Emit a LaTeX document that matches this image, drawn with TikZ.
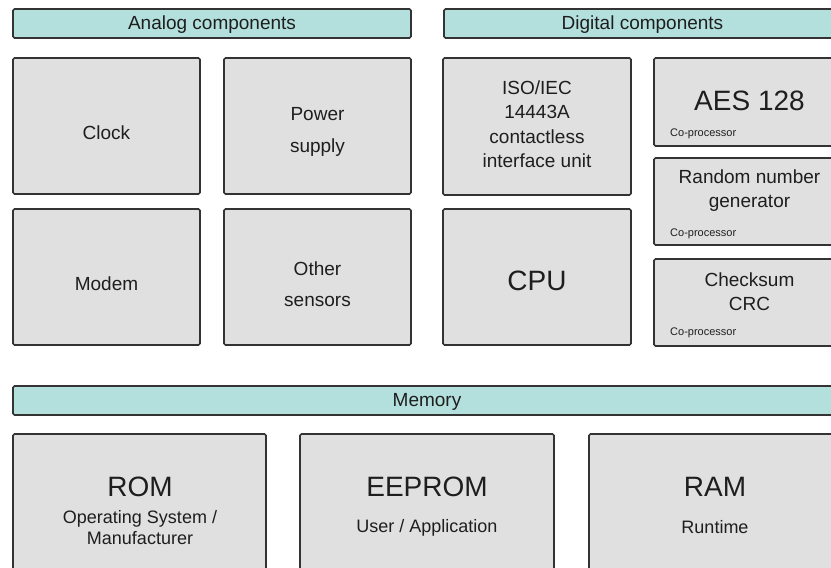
\documentclass[tikz,border=0pt]{standalone}
\usepackage{fontspec}
\setmainfont{Liberation Sans}
\definecolor{hdr}{HTML}{B3E0DD}
\definecolor{boxfill}{HTML}{E0E0E0}
\definecolor{edge}{HTML}{333333}
\definecolor{ink}{HTML}{1E1E1E}
\begin{document}
\begin{tikzpicture}[x=1pt,y=-1pt,
  hdrbox/.style={draw=edge, fill=hdr, line width=1.6pt, rounded corners=1.5pt, anchor=north west, inner sep=0pt, outer sep=0pt},
  unitbox/.style={draw=edge, fill=boxfill, line width=1.6pt, rounded corners=1.5pt, anchor=north west, inner sep=0pt, outer sep=0pt},
  lbl/.style={anchor=base, inner sep=0pt, text=ink, font=\fontsize{19}{22}\selectfont},
  big/.style={lbl, font=\fontsize{28}{32}\selectfont},
  sub/.style={lbl, font=\fontsize{18}{21}\selectfont},
  tinylbl/.style={anchor=base west, inner sep=0pt, text=ink, font=\fontsize{11}{13}\selectfont}]
\useasboundingbox (0,0) rectangle (831,568);
\clip (0,0) rectangle (831,568);
\fill[white] (0,0) rectangle (831,568);

% headers
\node[hdrbox, minimum width=398pt, minimum height=29pt] (analog) at (13,9) {};
\node[hdrbox, minimum width=401pt, minimum height=29pt] (digital) at (444,9) {};
\node[hdrbox, minimum width=832pt, minimum height=29pt] (memory) at (13,386) {};
\node[lbl] (analogT) at (212,29) {Analog components};
\node[lbl] (digitalT) at (642.5,29) {Digital components};
\node[lbl] (memoryT) at (427,406) {Memory};

% analog boxes
\node[unitbox, minimum width=187pt, minimum height=136pt] (clock) at (13,58) {};
\node[unitbox, minimum width=187pt, minimum height=136pt] (power) at (224,58) {};
\node[unitbox, minimum width=187pt, minimum height=136pt] (modem) at (13,209) {};
\node[unitbox, minimum width=187pt, minimum height=136pt] (sensors) at (224,209) {};
\node[lbl] (clockT) at (106.5,139.5) {Clock};
\node[lbl] (powerT1) at (317.5,120.5) {Power};
\node[lbl] (powerT2) at (317.5,152) {supply};
\node[lbl] (modemT) at (106.5,290.5) {Modem};
\node[lbl] (sensorsT1) at (317.5,275) {Other};
\node[lbl] (sensorsT2) at (317.5,306) {sensors};

% digital boxes
\node[unitbox, minimum width=188pt, minimum height=137pt] (iso) at (443,58) {};
\node[unitbox, minimum width=188pt, minimum height=136pt] (cpu) at (443,209) {};
\node[unitbox, minimum width=191pt, minimum height=88pt] (aes) at (654,58) {};
\node[unitbox, minimum width=191pt, minimum height=87pt] (rng) at (654,158) {};
\node[unitbox, minimum width=191pt, minimum height=87pt] (crc) at (654,259) {};
\node[lbl] (isoT1) at (537,94.3) {ISO/IEC};
\node[lbl] (isoT2) at (537,118.8) {14443A};
\node[lbl] (isoT3) at (537,143.3) {contactless};
\node[lbl] (isoT4) at (537,167.5) {interface unit};
\node[big] (cpuT) at (537,290.5) {CPU};
\node[big] (aesT) at (749.5,110.5) {AES 128};
\node[tinylbl] (aesC) at (670,136) {Co-processor};
\node[lbl] (rngT1) at (749.5,183) {Random number};
\node[lbl] (rngT2) at (749.5,207) {generator};
\node[tinylbl] (rngC) at (670,236.5) {Co-processor};
\node[lbl] (crcT1) at (749.5,286.5) {Checksum};
\node[lbl] (crcT2) at (749.5,310) {CRC};
\node[tinylbl] (crcC) at (670,335.5) {Co-processor};

% memory boxes
\node[unitbox, minimum width=253pt, minimum height=170pt] (rom) at (13,434) {};
\node[unitbox, minimum width=254pt, minimum height=170pt] (eeprom) at (300,434) {};
\node[unitbox, minimum width=253pt, minimum height=170pt] (ram) at (589,434) {};
\node[big] (romT) at (140,496) {ROM};
\node[sub] (romT1) at (140,523.5) {Operating System /};
\node[sub] (romT2) at (140,544) {Manufacturer};
\node[big] (eepromT) at (427,496.5) {EEPROM};
\node[sub] (eepromT1) at (427,532.5) {User / Application};
\node[big] (ramT) at (715,496.5) {RAM};
\node[sub] (ramT1) at (715,533) {Runtime};
\end{tikzpicture}
\end{document}
